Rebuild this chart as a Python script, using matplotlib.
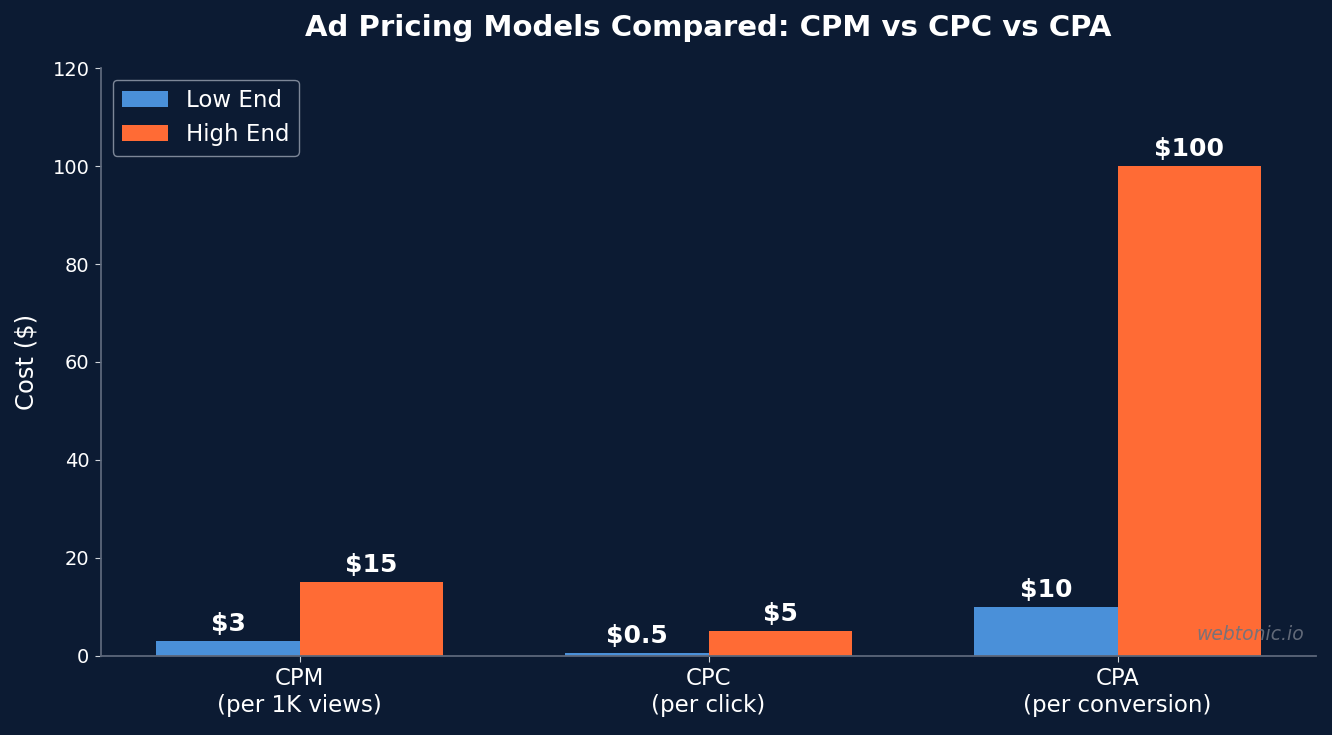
import matplotlib
matplotlib.use("Agg")
import matplotlib.pyplot as plt
import numpy as np

categories = ["CPM\n(per 1K views)", "CPC\n(per click)", "CPA\n(per conversion)"]
low_end = [3, 0.5, 10]
high_end = [15, 5, 100]
low_labels = ["$3", "$0.5", "$10"]
high_labels = ["$15", "$5", "$100"]

bg = "#0c1b33"
blue = "#4a90d9"
orange = "#ff6b35"
spine = "#5c677a"
legend_edge = "#7d8798"

fig, ax = plt.subplots(figsize=(13.32, 7.35), dpi=100)
fig.patch.set_facecolor(bg)
ax.set_facecolor(bg)

x = np.arange(len(categories))
w = 0.35
b1 = ax.bar(x - w/2, low_end, w, color=blue, label="Low End")
b2 = ax.bar(x + w/2, high_end, w, color=orange, label="High End")

for rect, lab in zip(b1, low_labels):
    ax.text(rect.get_x() + rect.get_width()/2, rect.get_height() + 1, lab,
            ha="center", va="bottom", color="white", fontsize=18, fontweight="bold")
for rect, lab in zip(b2, high_labels):
    ax.text(rect.get_x() + rect.get_width()/2, rect.get_height() + 1, lab,
            ha="center", va="bottom", color="white", fontsize=18, fontweight="bold")

ax.set_xticks(x)
ax.set_xticklabels(categories, fontsize=16.5)
ax.set_ylim(0, 120)
ax.tick_params(axis="y", labelsize=14)
for lbl in ax.get_xticklabels():
    lbl.set_color("white")
for lbl in ax.get_yticklabels():
    lbl.set_color("white")
ax.tick_params(axis="both", color="#d0d4da", length=4, pad=4.5)
ax.set_ylabel("Cost ($)", color="white", fontsize=17.5, labelpad=10)
ax.set_title("Ad Pricing Models Compared: CPM vs CPC vs CPA", color="white",
             fontsize=21, fontweight="bold", pad=23)

for s in ["top", "right"]:
    ax.spines[s].set_visible(False)
for s in ["left", "bottom"]:
    ax.spines[s].set_color(spine)
    ax.spines[s].set_linewidth(1.3)

leg = ax.legend(loc="upper left", fontsize=16.5, facecolor=bg, edgecolor=legend_edge,
                labelcolor="white", framealpha=1)

ax.text(0.99, 0.02, "webtonic.io", transform=ax.transAxes, ha="right", va="bottom",
        color="#6b7280", fontsize=13.5, fontstyle="italic", alpha=0.9)

plt.subplots_adjust(left=0.076, right=0.988, top=0.907, bottom=0.108)
fig.savefig("out.png", dpi=100, facecolor=bg)
